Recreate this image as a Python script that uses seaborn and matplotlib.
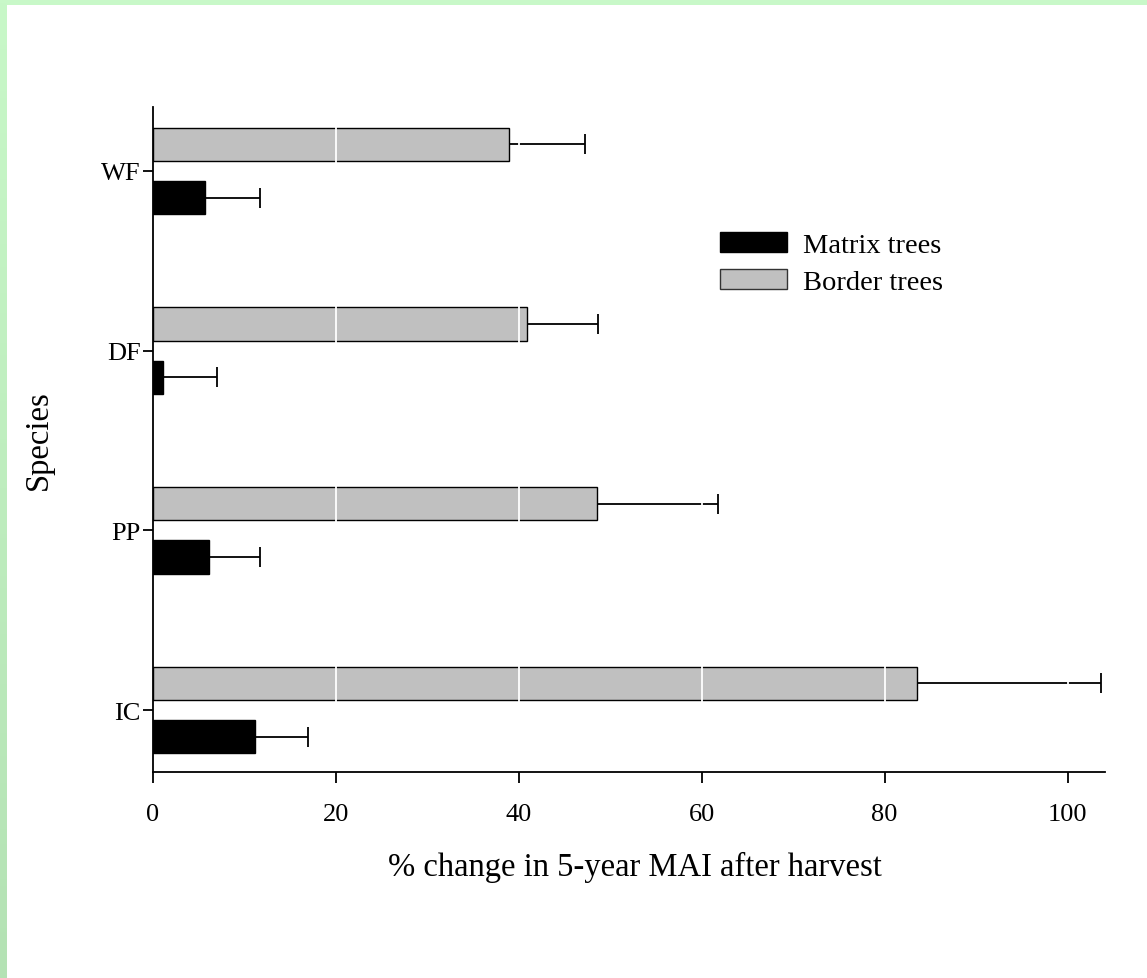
#!/usr/bin/env python3
# -*- coding: utf-8 -*-
"""
Cambio % en MAI a 5 años tras la cosecha, por especie (árboles de matriz vs borde)
"""

import matplotlib
matplotlib.use('Agg')
import matplotlib.pyplot as plt
import matplotlib.patches as mpatches
import seaborn as sns
import pandas as pd
import numpy as np

# Datos
especies = ['WF', 'DF', 'PP', 'IC']
matrix_media = [5.7, 1.1, 6.1, 11.2]
matrix_err = [6.0, 5.9, 5.6, 5.8]
border_media = [38.9, 40.9, 48.5, 83.5]
border_err = [8.3, 7.8, 13.3, 20.2]
x_ticks = [0, 20, 40, 60, 80, 100]

# Estilo
sns.set_style('ticks')
plt.rcParams['font.family'] = ['Liberation Serif', 'DejaVu Serif']
plt.rcParams['axes.linewidth'] = 1.3
plt.rcParams['text.color'] = 'black'
plt.rcParams['axes.labelcolor'] = 'black'

# Tabla larga para seaborn
df = pd.concat([
    pd.DataFrame({'especie': especies, 'valor': matrix_media, 'err': matrix_err, 'grupo': 'Matrix trees'}),
    pd.DataFrame({'especie': especies, 'valor': border_media, 'err': border_err, 'grupo': 'Border trees'}),
], ignore_index=True)

colores = {'Matrix trees': 'black', 'Border trees': '#c0c0c0'}

fig = plt.figure(figsize=(11.47, 9.79), dpi=100, facecolor='white')

# Marco verde (arriba y a la izquierda)
fig.add_artist(mpatches.Rectangle((0, 1 - 6 / 979), 1, 6 / 979, transform=fig.transFigure,
                                  facecolor='#c8f8c8', edgecolor='none', zorder=0))
ax_borde = fig.add_axes([0, 0, 7 / 1147, 1])
grad = np.linspace(0, 1, 256)[:, None, None]
top_c = np.array([200, 248, 200]) / 255
bot_c = np.array([180, 226, 180]) / 255
ax_borde.imshow(top_c * (1 - grad) + bot_c * grad, aspect='auto', extent=[0, 1, 0, 1])
ax_borde.axis('off')

ax = fig.add_axes([153 / 1147, 1 - 773 / 979, (1105 - 153) / 1147, (773 - 108) / 979])

sns.barplot(data=df, y='especie', x='valor', hue='grupo',
            order=especies, hue_order=['Border trees', 'Matrix trees'],
            palette=colores, edgecolor='black', linewidth=1.0,
            width=0.592, gap=0.375, errorbar=None, legend=False,
            orient='h', ax=ax, zorder=1)

# Barras de error (solo hacia la derecha, sin tope en el extremo de la barra)
for bar in list(ax.patches):
    w = bar.get_width()
    fila = df[np.isclose(df['valor'], w)]
    if fila.empty:
        continue
    yc = bar.get_y() + bar.get_height() / 2
    e = fila['err'].values[0]
    _, caps, _ = ax.errorbar(w, yc, xerr=[[0], [e]], fmt='none', ecolor='black',
                             elinewidth=1.3, capsize=7.2, capthick=1.3, zorder=2)
    caps[0].remove()

# Líneas blancas de la cuadrícula sobre las barras
for xv in x_ticks[1:]:
    ax.axvline(xv, color='white', linewidth=1.3, zorder=2.3)

ax.set_xlim(0, 104.1)
ax.set_ylim(3.345, -0.356)
ax.set_xticks(x_ticks)
ax.set_xticklabels([str(v) for v in x_ticks])

sns.despine(ax=ax)
for sp in ['left', 'bottom']:
    ax.spines[sp].set_zorder(3)
    ax.spines[sp].set_color('black')

ax.tick_params(axis='x', direction='out', length=8, width=1.3, labelsize=19, pad=14, colors='black')
ax.tick_params(axis='y', direction='out', length=7, width=1.3, labelsize=19, pad=2, colors='black')

ax.set_xlabel('% change in 5-year MAI after harvest', fontsize=23.5)
ax.set_ylabel('Species', fontsize=23.5, labelpad=34)
ax.xaxis.label.set_verticalalignment('top')
# Posición de la etiqueta del eje x (centro ~635, 865 px)
ax.xaxis.set_label_coords((635 - 153) / 952, (979 - 852 - (979 - 773)) / (773 - 108))

# Leyenda (Matrix primero)
handles = [mpatches.Patch(facecolor='black', edgecolor='black', linewidth=1.0, label='Matrix trees'),
           mpatches.Patch(facecolor='#c0c0c0', edgecolor='#333333', linewidth=1.0, label='Border trees')]
ax.legend(handles=handles, loc='upper left', bbox_to_anchor=(720 / 1147, 1 - 233 / 979),
          bbox_transform=fig.transFigure, frameon=False, fontsize=20.5,
          handlelength=2.35, handleheight=0.70, handletextpad=0.56,
          labelspacing=0.40, borderpad=0, borderaxespad=0)

plt.savefig('out.png', dpi=100, facecolor='white')
plt.close()
print("[OK] Imagen generada: out.png")
